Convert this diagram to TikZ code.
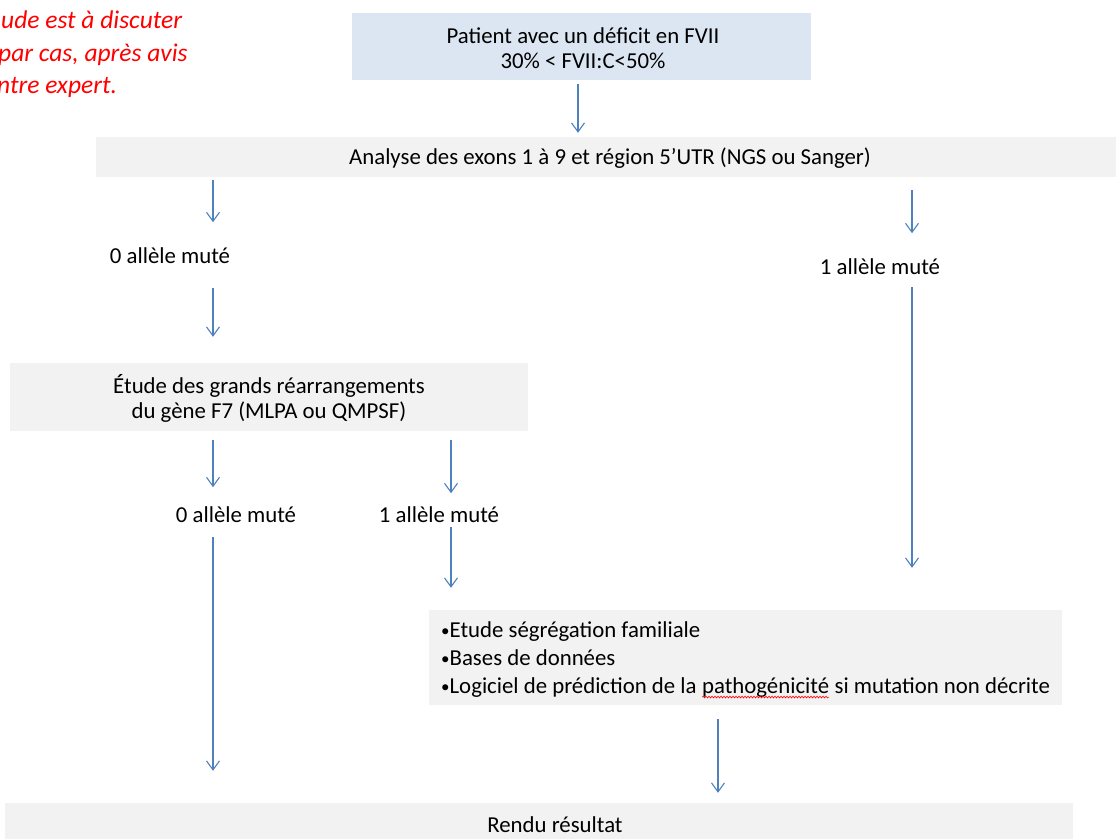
\documentclass[tikz,border=0pt]{standalone}
\usepackage{fontspec}
\setmainfont{Carlito}
\usetikzlibrary{arrows.meta,decorations.pathmorphing}

\definecolor{boxgray}{HTML}{F2F2F2}
\definecolor{boxblue}{HTML}{DCE6F2}
\definecolor{arrowblue}{HTML}{4F81BD}
\definecolor{notered}{HTML}{FF0000}

% word flagged by the spell checker: red wavy underline
\newcommand{\spellmark}[1]{\tikz[baseline=(w.base),x=1pt,y=1pt]{%
  \node[inner sep=0pt,outer sep=0pt,anchor=base,draw=none,fill=none](w){#1};%
  \draw[notered,line width=0.6pt,decorate,
        decoration={snake,amplitude=0.9pt,segment length=3pt}]
    ([yshift=-3.5pt]w.base west) -- ([yshift=-3.5pt]w.base east);}}
% small list bullet
\newcommand{\smallbullet}{{\fontsize{17}{17}\selectfont\raisebox{1.5pt}{•}}}

\tikzset{
  txt/.style={font=\fontsize{22.8}{25}\selectfont, text=black, inner sep=0pt},
  notetxt/.style={anchor=base west, inner sep=0pt, text=notered,
                  font=\fontsize{25.5}{32}\selectfont\itshape},
  graybox/.style={fill=boxgray, draw=none, inner sep=0pt},
  bluebox/.style={fill=boxblue, draw=none, inner sep=0pt},
  flow/.style={draw=arrowblue, line width=1.3pt,
               -{Straight Barb[length=9pt,width=13pt,line width=1.1pt]}},
}

\begin{document}
\begin{tikzpicture}[x=1pt,y=-1pt]
\useasboundingbox (0,0) rectangle (1116,838);

% note in red, top left
\node[notetxt] (note1) at (1,28) {ude est à discuter};
\node[notetxt] (note2) at (-2,61) {par cas, après avis};
\node[notetxt] (note3) at (-3,93) {ntre expert.};

% boxes
\node[bluebox, minimum width=459, minimum height=67] (patient) at (581.5,46.5) {};
\node[txt, align=center] (patientT) at (583,48.5)
  {Patient avec un déficit en FVII\\30\% < FVII:C<50\%};

\node[graybox, minimum width=1030, minimum height=40] (analyse) at (611,157) {};
\node[txt] (analyseT) at (610,158)
  {Analyse des exons 1 à 9 et région 5’UTR (NGS ou Sanger)};

\node[txt] (l0a) at (170,256) {0 allèle muté};
\node[txt] (l1a) at (880,267) {1 allèle muté};

\node[graybox, minimum width=518, minimum height=68] (etude) at (269,397) {};
\node[txt, align=center] (etudeT) at (269,398.5)
  {Étude des grands réarrangements\\du gène F7 (MLPA ou QMPSF)};

\node[txt] (l0b) at (236,515) {0 allèle muté};
\node[txt] (l1b) at (439,515) {1 allèle muté};

\node[graybox, minimum width=633, minimum height=95] (bilan) at (745.5,657.5) {};
\node[txt, anchor=west, align=left, font=\fontsize{22.8}{28}\selectfont] (bilanT) at (441,660)
  {\smallbullet Etude ségrégation familiale\\\smallbullet Bases de données\\%
   \smallbullet Logiciel de prédiction de la \spellmark{pathogénicité} si mutation non décrite};

\node[graybox, minimum width=1068, minimum height=50] (rendu) at (539,828) {};
\node[txt] (renduT) at (555,825) {Rendu résultat};

% arrow columns
\coordinate (cA) at (213,0);
\coordinate (cB) at (451,0);
\coordinate (cC) at (912,0);
\coordinate (cD) at (718,0);
\coordinate (cE) at (578,0);

% yshift is in page direction (up = positive)
\draw[flow] ([yshift=-4]patient.south -| cE) -- ([yshift=4]analyse.north -| cE);
\draw[flow] ([yshift=-3]analyse.south -| cA) -- ++(0,42);
\draw[flow] ([yshift=-13]analyse.south -| cC) -- ++(0,43);
\draw[flow] ([yshift=-32]l0a.center -| cA) -- ([yshift=26]etude.north -| cA);
\draw[flow] ([yshift=-9]etude.south -| cA) -- ++(0,47);
\draw[flow] ([yshift=-9]etude.south -| cB) -- ++(0,53);
\draw[flow] ([yshift=-12]l1b.center -| cB) -- ([yshift=22]bilan.north -| cB);
\draw[flow] ([yshift=-20]l1a.center -| cC) -- ([yshift=42]bilan.north -| cC);
\draw[flow] ([yshift=-22]l0b.center -| cA) -- ([yshift=32]rendu.north -| cA);
\draw[flow] ([yshift=-14]bilan.south -| cD) -- ([yshift=10]rendu.north -| cD);
\end{tikzpicture}
\end{document}
